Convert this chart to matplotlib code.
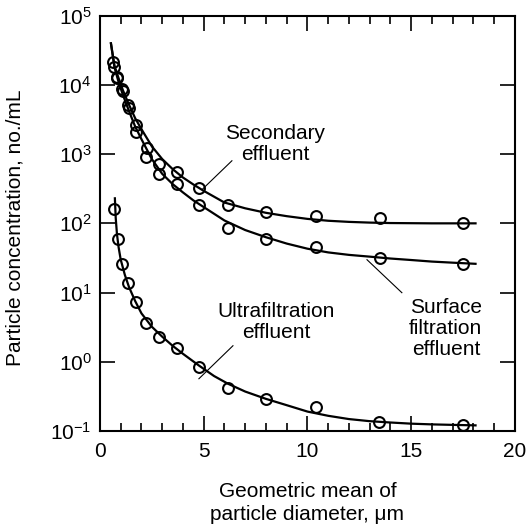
import matplotlib
matplotlib.use("Agg")
import matplotlib.pyplot as plt
from matplotlib.ticker import MultipleLocator, LogLocator, NullLocator

plt.rcParams['font.family'] = ['Liberation Sans', 'DejaVu Sans']
plt.rcParams['mathtext.fontset'] = 'custom'
plt.rcParams['mathtext.rm'] = 'Liberation Sans'
plt.rcParams['mathtext.default'] = 'regular'

# measured points (circles)
sec_x = [0.63, 0.82, 1.06, 1.35, 1.73, 2.26, 2.84, 3.7, 4.77, 6.17, 8.0, 10.4, 13.5, 17.5]
sec_y = [21600, 13200, 8800, 5200, 2650, 1230, 720, 560, 325, 186, 148, 129, 121, 102]
surf_x = [0.67, 0.82, 1.1, 1.38, 1.73, 2.22, 2.84, 3.7, 4.77, 6.17, 8.0, 10.4, 13.5, 17.5]
surf_y = [18000, 12500, 8300, 4650, 2100, 910, 520, 370, 187, 87, 60, 46, 32, 26]
uf_x = [0.67, 0.87, 1.06, 1.35, 1.73, 2.22, 2.84, 3.7, 4.77, 6.17, 8.0, 10.4, 13.45, 17.5]
uf_y = [162, 60, 26, 13.5, 7.4, 3.6, 2.3, 1.6, 0.85, 0.41, 0.29, 0.22, 0.135, 0.12]

# fitted curves
sec_cx = [0.53, 0.7, 0.9, 1.1, 1.4, 1.7, 2.0, 2.5, 3.0, 3.5, 4.0, 4.5, 5.0, 6.0, 7.0, 8.0,
          9.0, 10.0, 11.0, 12.0, 13.0, 14.0, 15.0, 16.0, 17.0, 18.1]
sec_cy = [40000, 19000, 12500, 8500, 5200, 3300, 2300, 1300, 850, 610, 460, 365, 295, 200, 165, 142,
          127, 116, 109, 105, 102.5, 101, 100.5, 100, 100, 100]
surf_cx = [0.53, 0.7, 0.9, 1.1, 1.4, 1.7, 2.0, 2.5, 3.0, 3.5, 4.0, 4.5, 5.0, 6.0, 7.0, 8.0,
           9.0, 10.0, 11.0, 12.0, 13.0, 14.0, 15.0, 16.0, 17.0, 18.1]
surf_cy = [40000, 18000, 11000, 7300, 4200, 2500, 1650, 850, 520, 370, 280, 215, 172, 110, 80, 63,
           51, 43, 38, 35, 33, 31, 29.5, 28, 27, 26]
uf_cx = [0.72, 0.76, 0.82, 0.9, 1.0, 1.2, 1.4, 1.7, 2.0, 2.5, 3.0, 3.5, 4.0, 4.77, 5.5, 6.17,
         7.0, 8.0, 9.0, 10.0, 11.0, 12.0, 13.0, 14.0, 15.0, 16.0, 17.0, 18.1]
uf_cy = [230, 120, 70, 45, 30, 18, 12, 7.5, 5.0, 3.2, 2.3, 1.7, 1.3, 0.88, 0.62, 0.48,
         0.37, 0.29, 0.235, 0.19, 0.165, 0.148, 0.138, 0.132, 0.127, 0.124, 0.122, 0.12]

fig = plt.figure(figsize=(5.26, 5.28), dpi=100)
ax = fig.add_axes([0.190, 0.184, 0.789, 0.786])

for cx, cy in [(sec_cx, sec_cy), (surf_cx, surf_cy), (uf_cx, uf_cy)]:
    ax.plot(cx, cy, color='black', lw=1.6)
for px, py in [(sec_x, sec_y), (surf_x, surf_y), (uf_x, uf_y)]:
    ax.plot(px, py, 'o', ms=7.8, mfc='none', mec='black', mew=1.5)

ax.set_yscale('log')
ax.set_xlim(0, 20)
ax.set_ylim(0.1, 1e5)
ax.xaxis.set_major_locator(MultipleLocator(5))
ax.xaxis.set_minor_locator(MultipleLocator(1))
ax.yaxis.set_major_locator(LogLocator(base=10, numticks=10))
ax.yaxis.set_minor_locator(NullLocator())
ax.tick_params(which='major', direction='in', length=11, width=1.2, top=True, right=True,
               labelsize=15)
ax.tick_params(which='minor', direction='in', length=6, width=1.2, top=True)
ax.tick_params(axis='x', which='major', pad=8)
ax.tick_params(axis='y', which='major', pad=6)
for s in ax.spines.values():
    s.set_linewidth(1.5)

ax.set_xlabel('Geometric mean of\nparticle diameter, μm', fontsize=15, linespacing=1.22)
ax.xaxis.set_label_coords(0.5, -0.124)
ax.set_ylabel('Particle concentration, no./mL', fontsize=15)
ax.yaxis.set_label_coords(-0.181, 0.489)

txt = dict(fontsize=15, ha='center', va='center', multialignment='center', linespacing=1.12)
ax.text(8.43, 1413, 'Secondary\neffluent', **txt)
ax.plot([6.36, 4.96], [803, 316], color='black', lw=0.8)
ax.text(8.48, 3.79, 'Ultrafiltration\neffluent', **txt)
ax.plot([6.41, 4.77], [1.70, 0.567], color='black', lw=0.8)
ax.text(16.67, 3.0, 'Surface\nfiltration\neffluent', **txt)
ax.plot([14.55, 12.87], [9.94, 29.8], color='black', lw=0.8)

fig.savefig('out.png', dpi=100)
